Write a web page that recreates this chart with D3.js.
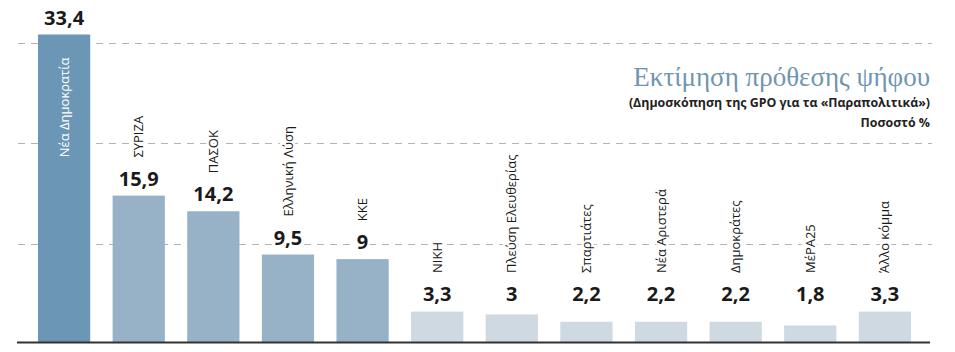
<!DOCTYPE html>
<html>
<head>
<meta charset="utf-8">
<script src="https://cdn.jsdelivr.net/npm/d3@7"></script>
<style>
  html, body { margin: 0; padding: 0; background: #fff; }
  svg { display: block; }
</style>
</head>
<body>
<svg id="chart" width="955" height="352"></svg>
<script>
// ---- data ----
const parties = ["Νέα Δημοκρατία", "ΣΥΡΙΖΑ", "ΠΑΣΟΚ", "Ελληνική Λύση", "ΚΚΕ", "ΝΙΚΗ",
  "Πλεύση Ελευθερίας", "Σπαρτιάτες", "Νέα Αριστερά", "Δημοκράτες", "ΜέΡΑ25", "Άλλο κόμμα"];
const values = [33.4, 15.9, 14.2, 9.5, 9, 3.3, 3, 2.2, 2.2, 2.2, 1.8, 3.3];
const valueLabels = ["33,4", "15,9", "14,2", "9,5", "9", "3,3", "3", "2,2", "2,2", "2,2", "1,8", "3,3"];
const tiers = [0, 1, 1, 1, 1, 2, 2, 2, 2, 2, 2, 2];
const gridLevels = [10.6, 21.6, 32.5];
const title = "Εκτίμηση πρόθεσης ψήφου";
const subtitle = "(Δημοσκόπηση της GPO για τα «Παραπολιτικά»)";
const unitLabel = "Ποσοστό %";

// ---- style ----
const tierColors = ["#6b96b5", "#97b1c6", "#ced9e2"];
const svg = d3.select("#chart");

const x = d3.scaleBand().domain(parties).range([38, 911]).paddingInner(0.3).paddingOuter(0);
const y = d3.scaleLinear().domain([0, 33.4]).range([342, 34.5]);

// gridlines
svg.append("g").selectAll("line").data(gridLevels).join("line")
  .attr("x1", 18).attr("x2", 932)
  .attr("y1", d => Math.round(y(d)) + 0.5).attr("y2", d => Math.round(y(d)) + 0.5)
  .attr("stroke", "#b3b3b3").attr("stroke-width", 1.2)
  .attr("stroke-dasharray", "7,6");

// title block
const tg = svg.append("g").attr("text-anchor", "end");
tg.append("text").attr("x", 930).attr("y", 86)
  .attr("font-family", "'Liberation Serif', serif").attr("font-size", 27)
  .attr("fill", "#6f95b1").text(title);
tg.append("text").attr("x", 930).attr("y", 107)
  .attr("font-family", "'Open Sans', sans-serif").attr("font-weight", 700).attr("font-size", 12.4)
  .attr("fill", "#222").text(subtitle);
tg.append("text").attr("x", 930).attr("y", 127)
  .attr("font-family", "'Open Sans', sans-serif").attr("font-weight", 700).attr("font-size", 12.4)
  .attr("fill", "#222").text(unitLabel);

// bars
svg.append("g").selectAll("rect").data(parties).join("rect")
  .attr("x", d => x(d))
  .attr("y", (d, i) => y(values[i]))
  .attr("width", x.bandwidth())
  .attr("height", (d, i) => y(0) - y(values[i]))
  .attr("fill", (d, i) => tierColors[tiers[i]]);

// baseline
svg.append("line").attr("x1", 17).attr("x2", 930)
  .attr("y1", y(0) + 0.5).attr("y2", y(0) + 0.5)
  .attr("stroke", "#333").attr("stroke-width", 2);

const labelY = i => Math.min(y(values[i]) - 10, 301);

// value labels
svg.append("g").selectAll("text").data(parties).join("text")
  .attr("x", d => x(d) + x.bandwidth() / 2)
  .attr("y", (d, i) => labelY(i))
  .attr("text-anchor", "middle")
  .attr("font-family", "'Open Sans', sans-serif").attr("font-weight", 700).attr("font-size", 20)
  .attr("fill", "#1a1a1a")
  .attr("stroke", "#fff").attr("stroke-width", 5).attr("paint-order", "stroke")
  .text((d, i) => valueLabels[i]);

// category labels (rotated)
svg.append("g").selectAll("text").data(parties).join("text")
  .attr("transform", (d, i) => {
    const cx = x(d) + x.bandwidth() / 2;
    const yy = i === 0 ? y(values[i]) + 23 : labelY(i) - 28;
    return `translate(${cx},${yy}) rotate(-90)`;
  })
  .attr("dy", "0.35em")
  .attr("text-anchor", (d, i) => i === 0 ? "end" : "start")
  .attr("font-family", "'Open Sans', sans-serif").attr("font-size", 13)
  .attr("fill", (d, i) => i === 0 ? "#fff" : "#1a1a1a")
  .attr("stroke", (d, i) => i === 0 ? "none" : "#fff")
  .attr("stroke-width", 5).attr("paint-order", "stroke")
  .text(d => d);
</script>
</body>
</html>
